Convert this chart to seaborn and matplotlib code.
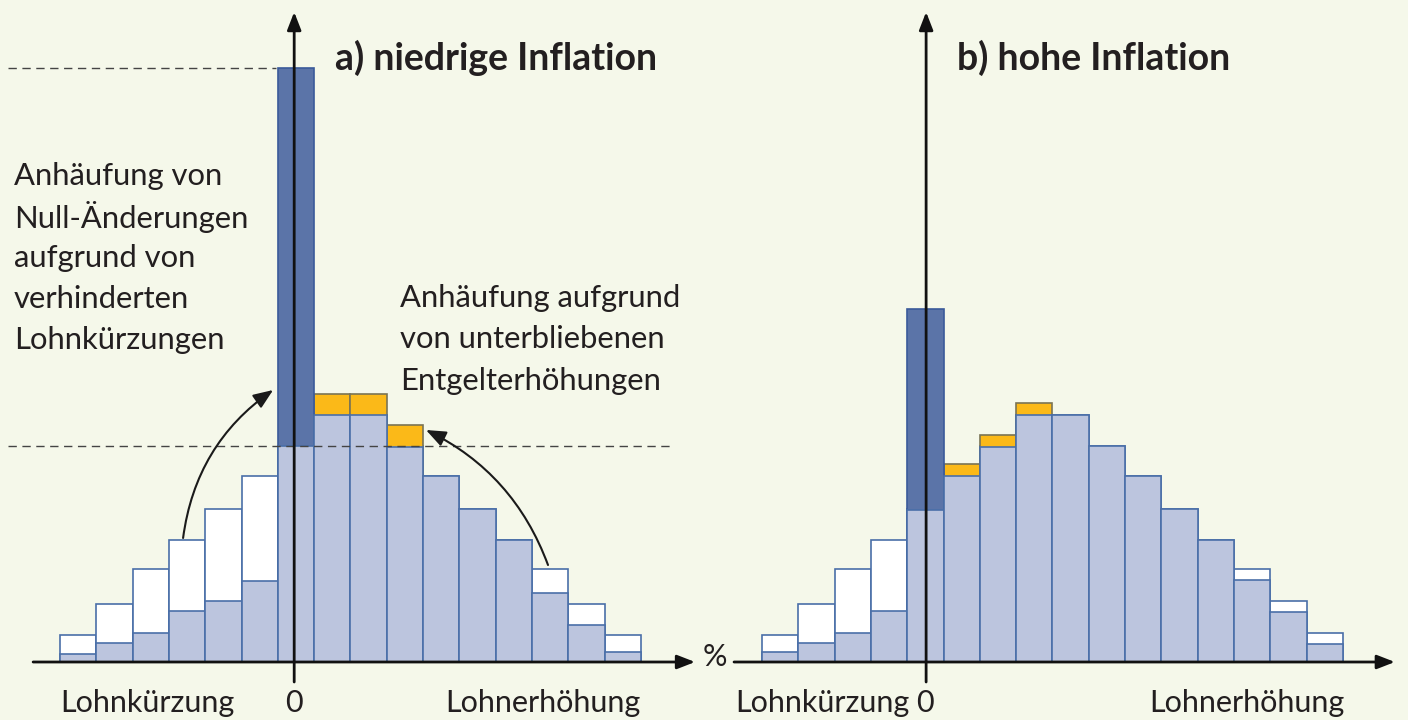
import numpy as np
import pandas as pd
import matplotlib.pyplot as plt
import seaborn as sns

# Lohnänderungs-Klassen, 0 = Null-Änderung
bins_a = list(range(-6, 10))
bins_b = list(range(-4, 12))

# hypothetische Verteilung ohne Rigidität (weiß)
ohne_a = [2.7, 5.8, 9.3, 12.2, 15.3, 18.6, 21.6, 24.7, 24.7, 21.6, 18.6, 15.3, 12.2, 9.3, 5.8, 2.7]
ohne_b = [2.7, 5.8, 9.3, 12.2, 15.3, 18.6, 21.6, 24.7, 24.7, 21.6, 18.6, 15.3, 12.2, 9.3, 6.1, 2.9]

# tatsächliche Verteilung (hellblau)
ist_a = [0.8, 1.9, 2.9, 5.1, 6.1, 8.1, 21.6, 24.7, 24.7, 21.5, 18.6, 15.3, 12.2, 6.9, 3.7, 1.0]
ist_b = [1.0, 1.9, 2.9, 5.1, 15.2, 18.6, 21.5, 24.7, 24.7, 21.6, 18.6, 15.3, 12.2, 8.2, 5.0, 1.8]

# Anhäufung bei Null (dunkelblau), Oberkante
null_a = 59.4
null_b = 35.3

# Anhäufung durch unterbliebene Erhöhungen (orange), Oberkante
orange_bins = [1, 2, 3]
orange_a = [26.8, 26.8, 23.7]
orange_b = [19.8, 22.7, 25.9]

bg = "#f5f8ea"
ink = "#231f20"
edge = "#4a6fa8"

sns.set_theme(style="white")
plt.rcParams["font.family"] = ["Lato", "DejaVu Sans"]

fig = plt.figure(figsize=(14.08, 7.2), dpi=100, facecolor=bg)
ax_a = fig.add_axes([0, 0, 0.5, 1])
ax_b = fig.add_axes([0.5, 0, 0.5, 1])


def panel(ax, bins, ohne, ist, null, orange):
    df = pd.DataFrame({"bin": bins, "ohne": ohne, "ist": ist})
    sns.barplot(data=df, x="bin", y="ohne", native_scale=True, width=1,
                color="white", saturation=1, edgecolor=edge, linewidth=1.2,
                errorbar=None, ax=ax)
    dfo = pd.DataFrame({"bin": orange_bins, "top": orange})
    sns.barplot(data=dfo, x="bin", y="top", native_scale=True, width=1,
                color="#fbb918", saturation=1, edgecolor="#7a7455", linewidth=1.2,
                errorbar=None, ax=ax)
    dfn = pd.DataFrame({"bin": [0], "top": [null]})
    sns.barplot(data=dfn, x="bin", y="top", native_scale=True, width=1,
                color="#5b74a8", saturation=1, edgecolor="#3a5a9a", linewidth=1.2,
                errorbar=None, ax=ax)
    sns.barplot(data=df, x="bin", y="ist", native_scale=True, width=1,
                color="#bcc5de", saturation=1, edgecolor=edge, linewidth=1.2,
                errorbar=None, ax=ax)
    ax.set_axis_off()
    ax.patch.set_visible(False)


panel(ax_a, bins_a, ohne_a, ist_a, null_a, orange_a)
panel(ax_b, bins_b, ohne_b, ist_b, null_b, orange_b)

ax_a.set_xlim(-8.152, 11.236)
ax_b.set_xlim(-6.097, 13.291)
for ax in (ax_a, ax_b):
    ax.set_ylim(-5.8, 66.2)

arrow = dict(arrowstyle="-|>,head_length=0.9,head_width=0.35", color="#111111",
             lw=2, shrinkA=0, shrinkB=0)

# Achsen
ax_a.annotate("", xy=(10.99, 0), xytext=(-7.24, 0), arrowprops=arrow, zorder=5)
ax_a.annotate("", xy=(-0.05, 65.0), xytext=(-0.05, -2.0), arrowprops=arrow, zorder=5)
ax_b.annotate("", xy=(12.93, 0), xytext=(-5.27, 0), arrowprops=arrow, zorder=5)
ax_b.annotate("", xy=(0.02, 65.0), xytext=(0.02, -2.0), arrowprops=arrow, zorder=5)

# gestrichelte Hilfslinien
ax_a.plot([-7.93, -0.55], [null_a, null_a], color="#444444", lw=1,
          dashes=(6, 4), zorder=4)
ax_a.plot([-7.93, 10.3], [ist_a[6], ist_a[6]], color="#444444", lw=1,
          dashes=(6, 4), zorder=4)

# geschwungene Pfeile
curve = dict(arrowstyle="-|>,head_length=1.0,head_width=0.4", color="#1a1a1a",
             lw=1.5, shrinkA=0, shrinkB=0)
ax_a.annotate("", xy=(-0.63, 27.2), xytext=(-3.11, 12.4),
              arrowprops=dict(curve, connectionstyle="arc3,rad=-0.22"), zorder=6)
ax_a.annotate("", xy=(3.58, 23.2), xytext=(6.94, 9.7),
              arrowprops=dict(curve, connectionstyle="arc3,rad=0.2"), zorder=6)

# Titel
ax_a.text(1.07, 60.4, "a) niedrige Inflation", fontsize=27, fontweight="bold",
          color=ink, ha="left", va="center")
ax_b.text(0.87, 60.4, "b) hohe Inflation", fontsize=27, fontweight="bold",
          color=ink, ha="left", va="center")

# Erläuterungen
links = ["Anhäufung von", "Null-Änderungen", "aufgrund von", "verhinderten",
         "Lohnkürzungen"]
for i, zeile in enumerate(links):
    ax_a.text(-7.77, 48.6 - i * 4.1, zeile, fontsize=22.3, color=ink,
              ha="left", va="center")
rechts = ["Anhäufung aufgrund", "von unterbliebenen", "Entgelterhöhungen"]
for i, zeile in enumerate(rechts):
    ax_a.text(2.86, 36.4 - i * 4.15, zeile, fontsize=22.3, color=ink,
              ha="left", va="center")

# Achsenbeschriftungen
for ax, pos in ((ax_a, (-4.10, -0.05, 6.80)), (ax_b, (-2.85, -0.01, 8.86))):
    for x, t in zip(pos, ["Lohnkürzung", "0", "Lohnerhöhung"]):
        ax.text(x, -4.1, t, fontsize=22, color=ink, ha="center", va="center")
ax_b.text(-5.79, 0.5, "%", fontsize=22, color=ink, ha="center", va="center")

fig.savefig("out.png", dpi=100, facecolor=bg)
